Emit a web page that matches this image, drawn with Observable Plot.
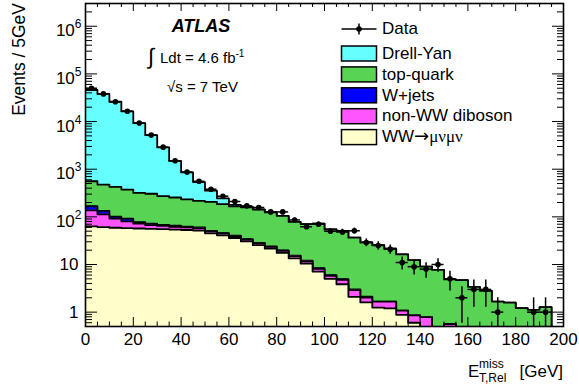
<!DOCTYPE html>
<html><head><meta charset="utf-8">
<script src="https://cdn.jsdelivr.net/npm/d3@7"></script>
<script src="https://cdn.jsdelivr.net/npm/@observablehq/plot@0.6"></script>
<style>html,body{margin:0;padding:0;background:#fff;} svg{display:block;}</style>
</head><body><div id="chart"></div>
<script>
// ---------- data ----------
const binLow = [0,5,10,15,20,25,30,35,40,45,50,55,60,65,70,75,80,85,90,95,
                100,105,110,115,120,125,130,135,140,145,150,155,160,165,170,175,180,185,190,195];
const binWidth = 5;

const wwMuNuMuNu = [63,61,59,58,57,56,55,54,53,51.5,45,41,36,30.5,25.5,21.5,17.5,13.5,10.5,7.1,
                    5.0,3.85,2.1,1.6,1.25,1.2,0.88,0.6,0,0,0,0,0,0,0,0,0,0,0,0];
const nonWWDiboson = [74,52,33,22,15,11,9.5,8,7,6,4,3.5,3.2,2.8,2.4,2,1.8,1.5,1.3,1.0,
                      0.8,0.9,0.8,0.42,0.42,0.47,0.2,0.26,0.79,0,0.56,0,0,0,0,0,0,0,0,0];
const wJets = [30,20,9,12,5,5,3,3,2,2.5,1.5,1.2,1,0.8,0.6,0.5,0.5,0.4,0.3,0.3,
               0.2,0.2,0.1,0.1,0,0,0,0,0,0,0,0,0,0,0,0,0,0,0,0];
const topQuark = [391,343,324,282,241,233,205,190,171,156,155,139,125,125,113.5,100,85,63,58,64,
                  48.5,46,33.5,26.9,23.8,19.8,15.2,11.5,8.2,7.7,4.3,4.7,3.4,2.8,1.67,1.59,1.21,1.12,1.27,0];
const drellYan = [45400,37500,25600,15900,8940,4900,2600,1230,628,322,149,60,13,3,1,0,0,0,0,0,
                  0,0,0,0,0,0,0,0,0,0,0,0,0,0,0,0,0,0,0,0];
const dataCounts = [50000,38000,26000,16500,9300,5200,2900,1500,870,558,380,271,210,170,157,127,127,86,62,70,
                    50,48,51,29,25,21,11,9,8,10,5,2,3,3,1,0,0,1,1,0];

const xTickValues = [0,20,40,60,80,100,120,140,160,180,200];
const xTickLabels = ["0","20","40","60","80","100","120","140","160","180","200"];
const yTickValues = [1,10,100,1000,10000,100000,1000000];
const yTickLabels = ["1","10","10^2","10^3","10^4","10^5","10^6"];

const seriesNames  = ["WW→μνμν","non-WW diboson","W+jets","top-quark","Drell-Yan"]; // bottom -> top
const seriesColors = ["#ffffcc","#ff55ff","#0000ff","#59d354","#66ffff"];
const seriesValues = [wwMuNuMuNu, nonWWDiboson, wJets, topQuark, drellYan];

// ---------- layout ----------
const FONT = "'Liberation Sans', Arial, Helvetica, sans-serif";
const W = 579, H = 389, ML = 85, MR = 16, MT = 3, MB = 63;
const PW = W - ML - MR, PH = H - MT - MB;
const FLOOR = 1e-3;

// cumulative stack
let running = binLow.map(() => 0);
const cums = seriesValues.map(s => (running = running.map((r, i) => r + s[i])));
const steps = vals => binLow.map((x, i) => ({x, y: Math.max(vals[i], FLOOR)}))
  .concat([{x: binLow[binLow.length - 1] + binWidth, y: Math.max(vals[vals.length - 1], FLOOR)}]);

const stackMarks = [];
for (let j = cums.length - 1; j >= 0; j--) {
  const s = steps(cums[j]);
  stackMarks.push(Plot.areaY(s, {x: "x", y1: FLOOR, y2: "y", curve: "step-after", fill: seriesColors[j], clip: true}));
  stackMarks.push(Plot.line(s, {x: "x", y: "y", curve: "step-after", stroke: "black", strokeWidth: 1.8, clip: true}));
}

const dataPts = binLow.map((x, i) => ({x: x + binWidth / 2, lo: x, hi: x + binWidth, n: dataCounts[i]}))
  .filter(d => d.n > 0);

// minor ticks
const yMinor = [];
for (let k = -1; k <= 6; k++) for (let m = 2; m <= 9; m++) {
  const v = m * Math.pow(10, k);
  if (v > 0.5 && v < 3e6) yMinor.push(v);
}
const xMinor = [];
for (let v = 0; v <= 200; v += 5) if (v % 20 !== 0) xMinor.push(v);

const plot = Plot.plot({
  width: W, height: H,
  marginLeft: ML, marginRight: MR, marginTop: MT, marginBottom: MB,
  style: {fontFamily: FONT, fontSize: "17px", background: "white", overflow: "visible"},
  x: {domain: [0, 200]},
  y: {type: "log", domain: [0.5, 3e6]},
  marks: [
    ...stackMarks,
    Plot.ruleX(dataPts, {x: "x", y1: d => Math.max(d.n - Math.sqrt(d.n), FLOOR), y2: d => d.n + Math.sqrt(d.n), stroke: "black", strokeWidth: 1.5, clip: true}),
    Plot.ruleY(dataPts, {y: "n", x1: "lo", x2: "hi", stroke: "black", strokeWidth: 1.5}),
    Plot.dot(dataPts, {x: "x", y: "n", r: 2.8, fill: "black", stroke: "none"}),
    // inward ticks on all four sides
    Plot.ruleY(yTickValues, {insetRight: PW - 12, stroke: "black", strokeWidth: 1}),
    Plot.ruleY(yMinor, {insetRight: PW - 7, stroke: "black", strokeWidth: 1}),
    Plot.ruleY(yTickValues, {insetLeft: PW - 11, stroke: "black", strokeWidth: 1}),
    Plot.ruleY(yMinor, {insetLeft: PW - 6, stroke: "black", strokeWidth: 1}),
    Plot.ruleX(xTickValues, {insetTop: PH - 9, stroke: "black", strokeWidth: 1}),
    Plot.ruleX(xMinor, {insetTop: PH - 4.5, stroke: "black", strokeWidth: 1}),
    Plot.ruleX(xTickValues, {insetBottom: PH - 8, stroke: "black", strokeWidth: 1}),
    Plot.ruleX(xMinor, {insetBottom: PH - 4, stroke: "black", strokeWidth: 1}),
    Plot.frame({stroke: "black", strokeWidth: 1.6}),
    Plot.axisX({ticks: xTickValues, tickSize: 0, tickPadding: 6, label: null, fontSize: 17,
                tickFormat: d => xTickLabels[xTickValues.indexOf(d)]}),
    Plot.axisY({ticks: yTickValues, tickSize: 0, tickPadding: 7, label: null, fontSize: 17,
                tickFormat: d => yTickLabels[yTickValues.indexOf(d)]})
  ]
});

document.getElementById("chart").appendChild(plot);

// superscript powers of ten in y tick labels
plot.querySelectorAll("text").forEach(t => {
  const m = t.textContent.match(/^10\^(\d)$/);
  if (m) {
    t.textContent = "";
    t.setAttribute("x", 3);
    const a = document.createElementNS("http://www.w3.org/2000/svg", "tspan");
    a.setAttribute("dy", "0.27em"); a.textContent = "10";
    const b = document.createElementNS("http://www.w3.org/2000/svg", "tspan");
    b.setAttribute("dy", "-8"); b.setAttribute("font-size", "12"); b.textContent = m[1];
    t.appendChild(a); t.appendChild(b);
  }
});

// ---------- annotations, titles, legend ----------
const svg = d3.select(plot);
const g = svg.append("g").attr("font-family", FONT).attr("fill", "black").attr("text-anchor", "start");

// y title
g.append("text").attr("transform", "translate(25,3) rotate(-90)").attr("text-anchor", "end")
  .attr("font-size", 17.5).text("Events / 5GeV");

// x title
g.append("text").attr("x", 468).attr("y", 377).attr("font-size", 17).text("E");
g.append("text").attr("x", 479).attr("y", 368).attr("font-size", 12).text("miss");
g.append("text").attr("x", 479).attr("y", 381.5).attr("font-size", 12).text("T,Rel");
g.append("text").attr("x", 563).attr("y", 377).attr("text-anchor", "end").attr("font-size", 17).text("[GeV]");

// ATLAS label
g.append("text").attr("x", 201).attr("y", 32).attr("text-anchor", "middle")
  .attr("font-size", 18).attr("font-weight", "bold").attr("font-style", "italic").text("ATLAS");
g.append("text").attr("x", 148).attr("y", 64).attr("font-size", 22).text("∫");
const lum = g.append("text").attr("x", 160).attr("y", 63).attr("font-size", 15);
lum.append("tspan").text("Ldt = 4.6 fb");
lum.append("tspan").attr("dy", -6).attr("font-size", 10).text("-1");
g.append("text").attr("x", 167).attr("y", 92).attr("font-size", 15).text("√s = 7 TeV");

// legend
const LX0 = 341.5, LX1 = 376.5, TX = 382;
g.append("line").attr("x1", LX0).attr("x2", LX1).attr("y1", 29).attr("y2", 29).attr("stroke", "black").attr("stroke-width", 1.5);
g.append("line").attr("x1", 359).attr("x2", 359).attr("y1", 23.5).attr("y2", 34.5).attr("stroke", "black").attr("stroke-width", 1.5);
g.append("circle").attr("cx", 359).attr("cy", 29).attr("r", 2.8).attr("fill", "black");
g.append("text").attr("x", TX).attr("y", 34).attr("font-size", 17).text("Data");

const legendOrder = [4, 3, 2, 1, 0];
legendOrder.forEach((k, i) => {
  const top = 46 + 20.9 * i;
  g.append("rect").attr("x", LX0).attr("y", top).attr("width", LX1 - LX0).attr("height", 15)
    .attr("fill", seriesColors[k]).attr("stroke", "black").attr("stroke-width", 1.5);
  const t = g.append("text").attr("x", TX).attr("y", top + 12.7).attr("font-size", 17);
  const name = seriesNames[k];
  const idx = name.indexOf("→");
  if (idx >= 0) {
    t.append("tspan").text(name.slice(0, idx));
    t.append("tspan").attr("font-family", "'DejaVu Sans', sans-serif").attr("font-size", 18).text("→");
    t.append("tspan").attr("font-family", "'Liberation Serif', 'DejaVu Serif', serif").text(name.slice(idx + 1));
  } else t.text(name);
});
</script>
</body></html>
